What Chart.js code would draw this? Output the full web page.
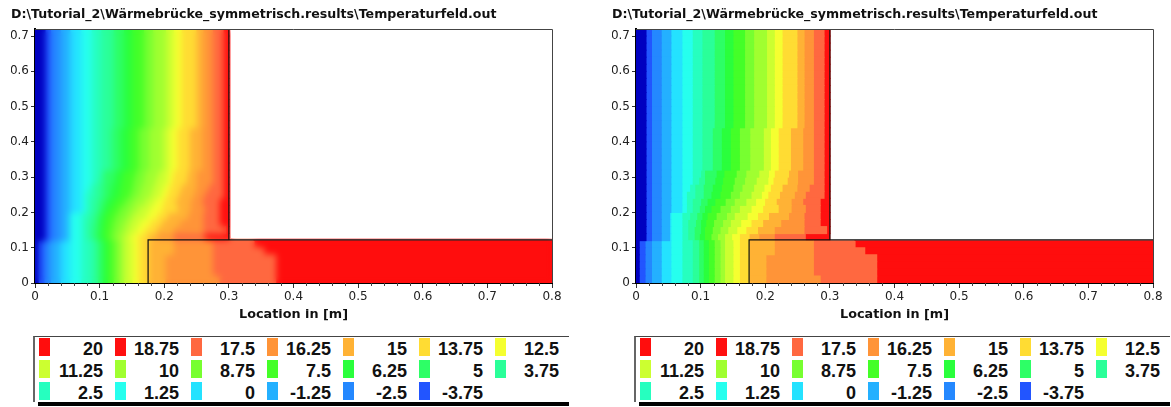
<!DOCTYPE html>
<html>
<head>
<meta charset="utf-8">
<script src="https://cdn.jsdelivr.net/npm/chart.js@4"></script>
<style>
  html, body { margin: 0; padding: 0; background: #fff; width: 1171px; height: 407px; overflow: hidden; }
  canvas { position: absolute; top: 0; }
  #chartLeft { left: 0; }
  #chartRight { left: 601px; }
  .legend { position: absolute; top: 336px; width: 534px; height: 65px; border-top: 1.5px solid #444; border-left: 2px solid #666; }
  .legend .shadow { position: absolute; left: 3px; right: 0; bottom: -4px; height: 4px; background: #000; }
  .legend .swatch { position: absolute; width: 11px; height: 18px; }
  .legend .value { position: absolute; width: 60px; text-align: right; font: bold 18px "Liberation Sans", Arial, sans-serif; line-height: 18px; color: #111; }
</style>
</head>
<body>
<canvas id="chartLeft" width="570" height="321"></canvas>
<canvas id="chartRight" width="570" height="321"></canvas>
<div class="legend" style="left:33px"></div>
<div class="legend" style="left:634px"></div>
<script>
const chartTitle = "D:\\Tutorial_2\\Wärmebrücke_symmetrisch.results\\Temperaturfeld.out"
const xAxisTitle = "Location in [m]"

// legend entries, same order as the picture
const legendLabels = ["20", "18.75", "17.5", "16.25", "15", "13.75", "12.5", "11.25", "10", "8.75", "7.5", "6.25", "5", "3.75", "2.5", "1.25", "0", "-1.25", "-2.5", "-3.75"]
const legendColors = ["#ff0d0d", "#ff1010", "#ff6840", "#ff9438", "#ffb235", "#ffdc33", "#f5ff30", "#ccff30", "#a0ff30", "#77ff30", "#44ff28", "#2aff3c", "#2dff66", "#2aff99", "#26ffbf", "#26ffee", "#24e2ff", "#24b0ff", "#2488ff", "#2255ff"]
const belowRangeColor = "#0000c0"

// colour bands from the left edge of the plot to the right
const bandColors = [belowRangeColor, ...legendColors.slice().reverse()]

// y centre of each mesh row, top to bottom
const rowY = [0.71, 0.69, 0.67, 0.65, 0.63, 0.61, 0.59, 0.57, 0.55, 0.53, 0.51, 0.49, 0.47, 0.45, 0.43, 0.41, 0.39, 0.37, 0.35, 0.33, 0.31, 0.29, 0.27, 0.25, 0.23, 0.21, 0.19, 0.17, 0.15, 0.13, 0.11, 0.09, 0.07, 0.05, 0.03, 0.01]

// x where each colour band ends, one list per row
const wallUpper = [.0155, .024, .039, .054, .071, .087, .102, .121, .137, .150, .168, .182, .202, .214, .226, .249, .260, .2745, .291, .30, .30]
const wallMiddle = [.0155, .024, .039, .054, .071, .087, .102, .118, .132, .146, .160, .176, .197, .208, .220, .239, .258, .2745, .291, .30, .30]
const plateLower = [.005, .014, .024, .039, .054, .071, .087, .097, .104, .112, .121, .130, .137, .150, .160, .175, .201, .2745, .3725, .3725, .8]
const rowEdges = [
  wallUpper, wallUpper, wallUpper, wallUpper, wallUpper, wallUpper, wallUpper,
  wallUpper, wallUpper, wallUpper, wallUpper, wallUpper, wallUpper, wallUpper,
  wallMiddle, wallMiddle, wallMiddle, wallMiddle, wallMiddle, wallMiddle,
  [.0155, .024, .039, .054, .071, .087, .100, .106, .124, .136, .155, .170, .190, .205, .214, .236, .250, .2745, .291, .30, .30],
  [.0155, .024, .039, .054, .071, .087, .097, .106, .122, .134, .152, .168, .186, .204, .212, .234, .250, .2745, .291, .30, .30],
  [.0155, .024, .039, .054, .071, .083, .091, .104, .118, .132, .150, .164, .182, .198, .208, .226, .249, .268, .291, .30, .30],
  [.0155, .024, .039, .054, .071, .078, .091, .104, .116, .130, .146, .160, .178, .194, .204, .222, .245, .262, .291, .30, .30],
  [.0155, .024, .039, .054, .071, .078, .087, .100, .110, .122, .138, .152, .170, .185, .199, .217, .240, .258, .285, .30, .30],
  [.0155, .024, .039, .054, .071, .078, .087, .098, .106, .116, .130, .146, .160, .178, .196, .220, .240, .262, .285, .30, .30],
  [.0155, .024, .039, .052, .054, .071, .083, .094, .102, .110, .124, .140, .152, .172, .188, .205, .236, .260, .285, .30, .30],
  [.0155, .024, .039, .052, .054, .071, .080, .092, .100, .108, .120, .134, .146, .162, .178, .196, .224, .260, .285, .30, .30],
  [.0155, .024, .039, .052, .054, .071, .080, .090, .100, .106, .118, .130, .142, .156, .170, .188, .214, .260, .295, .30, .30],
  [.0155, .024, .039, .052, .054, .071, .080, .090, .098, .106, .116, .126, .137, .148, .160, .175, .190, .214, .262, .298, .30],
  [.005, .014, .024, .039, .054, .071, .087, .097, .104, .112, .121, .130, .137, .150, .160, .175, .214, .2745, .339, .339, .8],
  [.005, .014, .024, .039, .054, .071, .087, .097, .104, .112, .121, .130, .137, .150, .160, .175, .214, .2745, .354, .354, .8],
  plateLower, plateLower, plateLower,
  [.005, .014, .024, .039, .054, .071, .087, .097, .104, .112, .121, .130, .137, .150, .160, .175, .201, .285, .3725, .3725, .8],
]

// black outlines of the wall and the floor plate
const wallLineX = [0.3, 0.3]
const wallLineY = [0.72, 0.122]
const plateLineX = [0.175, 0.175, 0.8]
const plateLineY = [0, 0.122, 0.122]

const xMax = 0.8
const yMax = 0.72
const xMinorStep = 0.02

function bandDatasets() {
  return bandColors.map((color, band) => ({
    type: "bar",
    indexAxis: "y",
    grouped: false,
    barPercentage: 1,
    categoryPercentage: 1,
    inflateAmount: 0.5,
    borderWidth: 0,
    backgroundColor: color,
    data: rowY.map((y, row) => ({
      y: y,
      x: [band === 0 ? 0 : rowEdges[row][band - 1], rowEdges[row][band]],
    })),
  }))
}

function outlineDataset(xs, ys) {
  return {
    type: "scatter",
    indexAxis: "x",
    showLine: true,
    pointRadius: 0,
    borderColor: "#111",
    borderWidth: 1.2,
    clip: false,
    data: xs.map((x, i) => ({ x: x, y: ys[i] })),
  }
}

// plot frame and the small ticks Chart.js has no option for
const framePlugin = {
  id: "frame",
  afterDraw(chart) {
    const { ctx, chartArea: a, scales } = chart
    ctx.save()
    ctx.strokeStyle = "#444"
    ctx.lineWidth = 1
    ctx.beginPath()
    ctx.moveTo(a.left, a.top + 0.5)
    ctx.lineTo(a.right + 0.5, a.top + 0.5)
    ctx.lineTo(a.right + 0.5, a.bottom)
    for (let i = 1; i < Math.round(xMax / xMinorStep); i++) {
      if (i % 5 === 0) continue
      const px = Math.round(scales.x.getPixelForValue(i * xMinorStep)) + 0.5
      ctx.moveTo(px, a.bottom)
      ctx.lineTo(px, a.bottom + 3)
    }
    ctx.stroke()
    ctx.restore()
  },
}

// left picture is the same field shown with smoothing
const smoothPlugin = {
  id: "smooth",
  afterDatasetDraw(chart, args) {
    if (args.index !== 2) return
    const { ctx, chartArea: a, canvas, scales } = chart
    const w = a.right - a.left
    const h = a.bottom - a.top
    const copy = document.createElement("canvas")
    copy.width = w
    copy.height = h
    copy.getContext("2d").drawImage(canvas, a.left, a.top, w, h, 0, 0, w, h)
    ctx.save()
    ctx.beginPath()
    ctx.rect(a.left, a.top, w, h)
    ctx.clip()
    ctx.filter = "blur(3px)"
    ctx.drawImage(copy, a.left, a.top)
    ctx.restore()
    // the blur must not bleed far into the empty room
    const roomLeft = scales.x.getPixelForValue(wallLineX[0]) + 2
    const roomBottom = scales.y.getPixelForValue(plateLineY[1]) - 2
    ctx.clearRect(roomLeft, a.top, a.right - roomLeft, roomBottom - a.top)
  },
}

function makeChart(id, plugins) {
  const tickStyle = { color: "#222", font: { family: "DejaVu Sans", size: 12 } }
  return new Chart(document.getElementById(id), {
    type: "bar",
    data: {
      datasets: [outlineDataset(wallLineX, wallLineY), outlineDataset(plateLineX, plateLineY), ...bandDatasets()],
    },
    plugins: plugins,
    options: {
      responsive: false,
      animation: false,
      events: [],
      layout: { padding: { left: 11, right: 18, top: 0, bottom: 0 } },
      plugins: {
        legend: { display: false },
        tooltip: { enabled: false },
        title: {
          display: true,
          text: chartTitle,
          align: "start",
          color: "#111",
          font: { family: "DejaVu Sans", size: 12.6, weight: "bold", lineHeight: 1 },
          padding: { top: 8, bottom: 8.4 },
        },
      },
      scales: {
        x: {
          type: "linear",
          min: 0,
          max: xMax,
          offset: false,
          afterFit(scale) { scale.height = 38 },
          grid: { offset: false, drawOnChartArea: false, tickLength: 5, tickColor: "#333" },
          border: { color: "#000", width: 2, dash: [1, 1] },
          ticks: { ...tickStyle, stepSize: 0.1, maxRotation: 0, padding: 2 },
          title: {
            display: true,
            text: xAxisTitle,
            color: "#111",
            font: { family: "DejaVu Sans", size: 12.8, weight: "bold", lineHeight: 1 },
            padding: { top: 1, bottom: 0 },
          },
        },
        y: {
          type: "linear",
          min: 0,
          max: yMax,
          offset: false,
          afterFit(scale) { scale.width = 24 },
          grid: { offset: false, drawOnChartArea: false, tickLength: 4, tickColor: "#333" },
          border: { color: "#000", width: 2, dash: [1, 1] },
          ticks: { ...tickStyle, stepSize: 0.1, includeBounds: false, padding: 2 },
        },
      },
    },
  })
}

function buildLegend(box) {
  legendLabels.forEach((label, i) => {
    const col = i % 7
    const row = Math.floor(i / 7)
    const swatch = document.createElement("div")
    swatch.className = "swatch"
    swatch.style.left = 4 + col * 76 + "px"
    swatch.style.top = 1 + row * 22 + "px"
    swatch.style.background = legendColors[i]
    box.appendChild(swatch)
    const value = document.createElement("div")
    value.className = "value"
    value.style.left = 8 + col * 76 + "px"
    value.style.top = 3 + row * 22 + "px"
    value.textContent = label
    box.appendChild(value)
  })
  const shadow = document.createElement("div")
  shadow.className = "shadow"
  box.appendChild(shadow)
}

makeChart("chartLeft", [smoothPlugin, framePlugin])
makeChart("chartRight", [framePlugin])
document.querySelectorAll(".legend").forEach(buildLegend)
</script>
</body>
</html>
